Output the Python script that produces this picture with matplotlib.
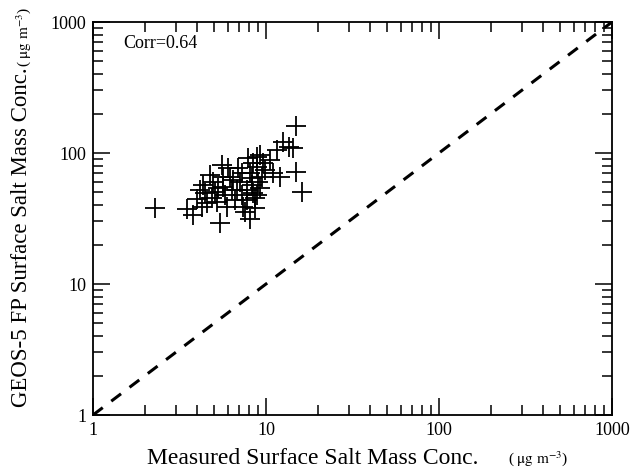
import numpy as np
import matplotlib
matplotlib.use('Agg')
import matplotlib.pyplot as plt

# Valores (ug m-3)
medido = [3.48, 3.97, 4.25, 3.80, 4.15, 4.44, 4.75, 4.96, 4.85, 5.19,
          5.42, 5.54, 5.67, 5.80, 5.93, 6.19, 6.33, 6.62, 6.92, 7.07,
          7.23, 7.39, 7.56, 8.08, 7.90, 8.08, 8.26, 8.45, 8.64, 8.83,
          8.91, 9.03, 9.23, 9.44, 8.45, 9.65, 9.87, 8.64, 7.73, 10.5,
          11.0, 11.5, 12.0, 12.6, 13.5, 14.3, 14.9, 15.0, 16.1, 6.77,
          6.06, 5.30, 4.54, 4.34, 8.83, 8.26, 7.73, 7.23, 6.48, 5.07,
          5.67, 9.23, 2.28]
modelo = [37.2, 44.3, 38.9, 33.6, 52.2, 49.2, 67.9, 60.4, 45.1, 42.5,
          29.1, 81.0, 55.3, 47.8, 38.9, 65.9, 52.2, 43.8, 76.4, 60.4,
          47.8, 38.9, 35.7, 31.2, 91.0, 69.9, 57.0, 49.2, 45.1, 93.7,
          78.7, 60.4, 53.7, 65.9, 83.4, 83.4, 74.2, 37.8, 43.8, 88.4,
          69.9, 105, 65.9, 122, 112, 110, 161, 72.0, 50.7, 52.2,
          76.4, 53.7, 41.3, 57.0, 47.8, 64.1, 52.2, 69.9, 62.2, 50.7,
          65.9, 96.6, 38.0]
corr = 0.64
limites = [1, 1000]
ticks = [1, 10, 100, 1000]

plt.rcParams['font.family'] = ['Liberation Serif', 'DejaVu Serif']
plt.rcParams['mathtext.fontset'] = 'stix'

W, H = 632, 473
fig = plt.figure(figsize=(W / 100, H / 100), dpi=100)
ax = fig.add_axes([93 / W, 1 - 415 / H, (612 - 93) / W, (415 - 22) / H])

ax.plot(limites, limites, '--', color='black', lw=2.2, dashes=(4, 3.5))
ax.plot(medido, modelo, '+', color='black', ms=14.5, mew=1.3)

ax.set_xscale('log')
ax.set_yscale('log')
ax.set_xlim(limites)
ax.set_ylim(limites)
ax.set_xticks(ticks)
ax.set_yticks(ticks)
ax.set_xticklabels([str(t) for t in ticks])
ax.set_yticklabels([str(t) for t in ticks])
ax.tick_params(which='both', direction='in', top=True, right=True, labelsize=13, pad=5)
ax.tick_params(which='major', length=12, width=1.1)
ax.tick_params(which='minor', length=7, width=1.1)
for s in ax.spines.values():
    s.set_linewidth(1.3)

ax.text(0.058, 0.945, 'Corr=%.2f' % corr, transform=ax.transAxes, fontsize=13, va='center')

# Etiquetas de los ejes (texto principal + unidades mas pequenas)
unidad = r'( $\mathrm{\mu g\ m^{-3}}$)'
fig.text(147 / W, 1 - 458 / H, 'Measured Surface Salt Mass Conc.', fontsize=17,
         ha='left', va='center')
fig.text(508 / W, 1 - 459 / H, unidad, fontsize=11, ha='left', va='center')
fig.text(22 / W, 1 - 407 / H, 'GEOS-5 FP Surface Salt Mass Conc.', fontsize=16.5,
         rotation=90, ha='center', va='bottom')
fig.text(24 / W, 1 - 67 / H, unidad, fontsize=11, rotation=90, ha='center', va='bottom')

plt.savefig('out.png', dpi=100)
